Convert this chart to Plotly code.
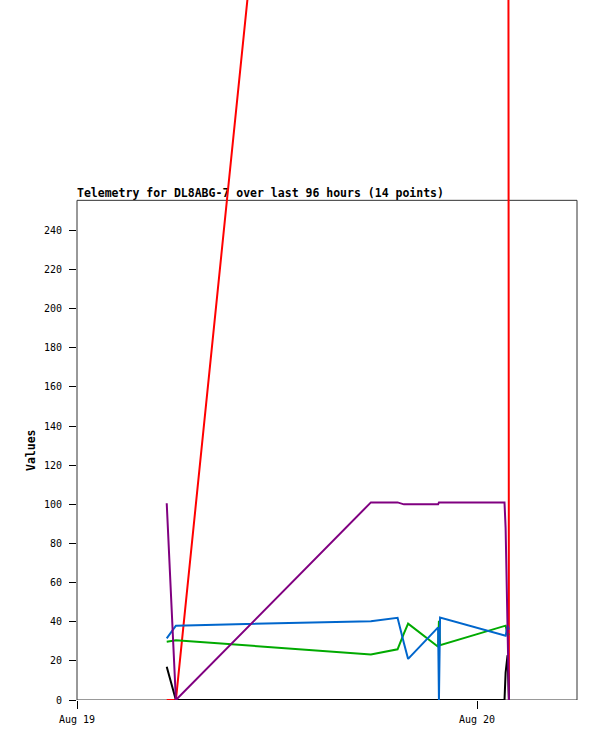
import plotly.graph_objects as go

# ---- data ----
times = [
    "2024-08-19 05:23", "2024-08-19 05:56", "2024-08-19 17:38", "2024-08-19 19:14",
    "2024-08-19 19:37", "2024-08-19 19:52", "2024-08-19 21:40", "2024-08-19 21:43",
    "2024-08-19 21:47", "2024-08-20 01:39", "2024-08-20 01:43", "2024-08-20 01:46",
    "2024-08-20 01:50", "2024-08-20 01:55",
]
red_vals = [0, 0, 976, 980, 982, 983, 990, 991, 992, 1010, 1011, 1012, 1013, 0]
black_vals = [17, 0, 0, 0, 0, 0, 0, 0, 0, 0, 14, 18, 23, 0]
green_vals = [29.8, 30.5, 23.3, 25.9, 34, 39, 27.2, 40.5, 28, 37.5, 38, 36, 33, 34]
blue_vals = [31.5, 38, 40.3, 42, 29, 21, 37.1, 0, 42.2, 33.2, 32.8, 35, 38, 36]
purple_vals = [100.6, 0, 101, 101, 100, 100, 100, 101, 101, 101, 88, 63, 30, 0]

series_names = ["Red", "Black", "Green", "Blue", "Purple"]
series_colors = ["#ff0000", "#000000", "#00aa00", "#0066cc", "#800080"]
series_values = [red_vals, black_vals, green_vals, blue_vals, purple_vals]

y_tickvals = list(range(0, 241, 20))
x_tickvals = ["2024-08-19 00:00", "2024-08-20 00:00"]
x_ticktext = ["Aug 19", "Aug 20"]
x_range = ["2024-08-19 00:00", "2024-08-20 06:00"]
y_top = 255.4
y_range = [0, 357.8]

title_text = "Telemetry for DL8ABG-7 over last 96 hours (14 points)"

mono = "DejaVu Sans Mono"

fig = go.Figure()

# title drawn as a text trace so the series lines are painted over it
fig.add_trace(go.Scatter(
    x=[x_range[0]], y=[258.5], mode="text", text=[title_text],
    textposition="middle right", cliponaxis=False, hoverinfo="skip",
    textfont=dict(family=mono, size=11.5, color="#000000", weight="bold"),
    showlegend=False,
))

for name, color, vals in zip(series_names, series_colors, series_values):
    fig.add_trace(go.Scatter(
        x=times, y=vals, mode="lines", name=name,
        line=dict(color=color, width=2), showlegend=False,
    ))

fig.update_layout(
    width=597, height=741,
    margin=dict(l=77, r=20, t=0, b=41),
    paper_bgcolor="white", plot_bgcolor="white",
    showlegend=False,
    xaxis=dict(
        type="date", range=x_range, tickvals=x_tickvals, ticktext=x_ticktext,
        showgrid=False, zeroline=False, showline=False,
        ticks="outside", ticklen=8, tickwidth=1, tickcolor="#000000",
        ticklabelstandoff=2,
        tickfont=dict(family=mono, size=10, color="#000000"),
    ),
    yaxis=dict(
        range=y_range, tickvals=y_tickvals,
        showgrid=False, zeroline=False, showline=False,
        ticks="outside", ticklen=7, tickwidth=1, tickcolor="#000000",
        ticklabelstandoff=5,
        tickfont=dict(family=mono, size=10, color="#000000"),
    ),
    shapes=[dict(
        type="rect", xref="paper", x0=0, x1=1, yref="y", y0=0, y1=y_top,
        line=dict(color="#333333", width=1), layer="below",
    )],
    annotations=[dict(
        text="<b>Values</b>", xref="paper", yref="paper",
        x=(31 - 77) / 500, y=(700 - 450) / 700, textangle=-90,
        showarrow=False, xanchor="center", yanchor="middle",
        font=dict(family=mono, size=11.5, color="#000000"),
    )],
)

fig.write_html(
    "out.html",
    config={"displayModeBar": False},
    post_script="document.body.style.margin='0';",
)
